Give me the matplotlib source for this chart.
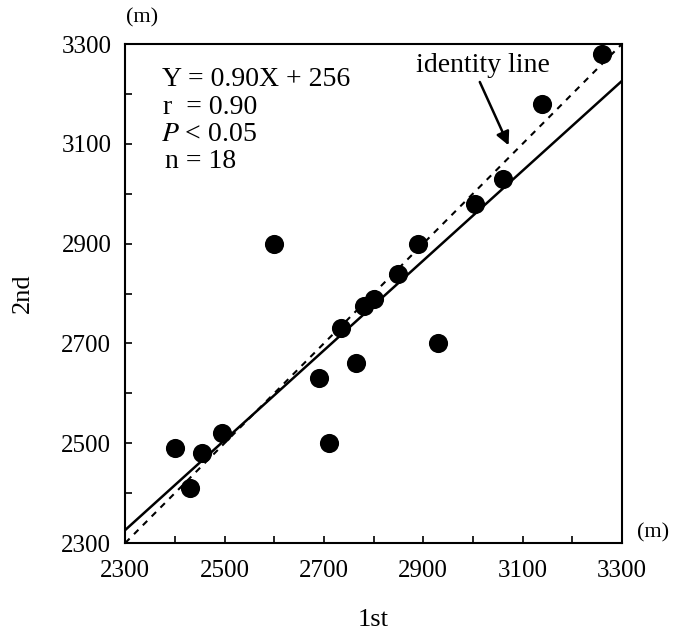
import numpy as np
import matplotlib
matplotlib.use('Agg')
import matplotlib.pyplot as plt

plt.rcParams['font.family'] = ['Liberation Serif', 'DejaVu Serif']
plt.rcParams['mathtext.fontset'] = 'stix'

# 1st and 2nd measurement (m)
first = [2400, 2430, 2455, 2495, 2600, 2690, 2710, 2735, 2765, 2780,
         2800, 2850, 2890, 2930, 3005, 3060, 3140, 3260]
second = [2490, 2410, 2480, 2520, 2900, 2630, 2500, 2730, 2660, 2775,
          2790, 2840, 2900, 2700, 2980, 3030, 3180, 3280]

slope = 0.90
intercept = 256
lims = [2300, 3300]

fig = plt.figure(figsize=(6.73, 6.34), dpi=100)
ax = fig.add_axes([0.186, 0.1435, 0.738, 0.787])

ax.scatter(first, second, s=190, color='black', zorder=3, linewidths=0)

xs = np.array(lims)
ax.plot(xs, slope * xs + intercept, color='black', lw=1.8)
ax.plot(xs, xs, color='black', lw=1.5, ls=(0, (3, 3)))

ax.set_xlim(lims)
ax.set_ylim(lims)
ax.set_xticks(np.arange(2300, 3301, 200))
ax.set_yticks(np.arange(2300, 3301, 200))
ax.set_xticks(np.arange(2300, 3301, 100), minor=True)
ax.set_yticks(np.arange(2300, 3301, 100), minor=True)
ax.tick_params(which='both', direction='in', length=5, width=1.2, labelsize=18)
ax.tick_params(axis='x', which='major', pad=12)
ax.tick_params(axis='y', which='major', pad=10)
for s in ax.spines.values():
    s.set_linewidth(1.5)

ax.set_xlabel('1st', fontsize=19, labelpad=20)
ax.set_ylabel('2nd', fontsize=19, labelpad=20)

ax.text(2374, 3228, 'Y = 0.90X + 256', fontsize=20, va='center')
ax.text(2376, 3172, 'r  = 0.90', fontsize=20, va='center')
ax.text(2372, 3118, r'$P$ < 0.05', fontsize=20, va='center')
ax.text(2380, 3064, 'n = 18', fontsize=20, va='center')

ax.text(3020, 3258, 'identity line', fontsize=20, ha='center', va='center')
ax.annotate('', xy=(3072, 3097), xytext=(3014, 3224),
            arrowprops=dict(arrowstyle='-|>', color='black', lw=1.8,
                            mutation_scale=20, shrinkA=0, shrinkB=0))

fig.text(142 / 673, 1 - 18 / 634, '(m)', fontsize=16, ha='center', va='center')
fig.text(653 / 673, 1 - 533 / 634, '(m)', fontsize=16, ha='center', va='center')

fig.savefig('out.png', dpi=100)
